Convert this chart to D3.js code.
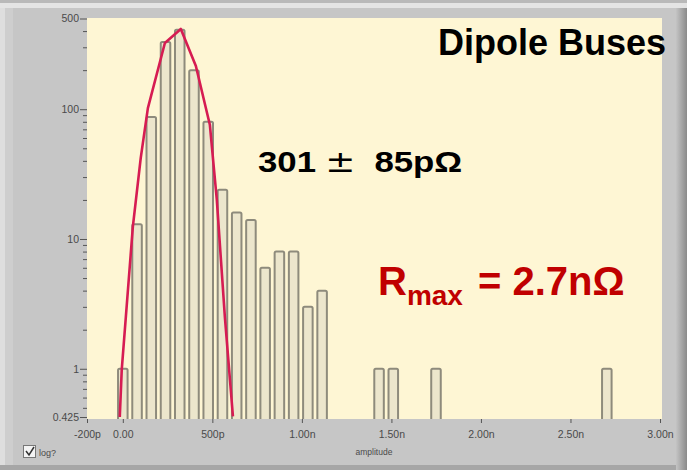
<!DOCTYPE html>
<html>
<head>
<meta charset="utf-8">
<script src="https://cdn.jsdelivr.net/npm/d3@7"></script>
<style>
  body { margin: 0; background: #c6c6c6; }
  svg { display: block; }
  .tick text { fill: #4a4a4a; font-family: "Liberation Sans", Arial, sans-serif; }
  .tick line { stroke: #555; }
</style>
</head>
<body>
<svg width="687" height="470"></svg>
<script>
// histogram bins (bin centre, pOhm) and counts
var binCenters = [0, 79.5, 159, 238.5, 318, 397.5, 477, 556.5, 636, 715.5, 795, 874.5, 954, 1033.5, 1113, 1431, 1510.5, 1749, 2703];
var counts     = [1, 13, 87, 330, 410, 200, 80, 24, 16, 14, 6, 8, 8, 3, 4, 1, 1, 1, 1];

// gaussian fit curve
var fitX = [-17, -6, 56, 100, 140, 235, 324, 408, 486, 525, 570, 615];
var fitY = [0.425, 0.98, 12.4, 42, 102, 324, 415, 215, 76, 20, 2.5, 0.43];

var xTicks = [-200, 0, 500, 1000, 1500, 2000, 2500, 3000];
var xTickLabels = ["-200p", "0.00", "500p", "1.00n", "1.50n", "2.00n", "2.50n", "3.00n"];
var yTicks = [0.425, 1, 10, 100, 500];
var yTickLabels = ["0.425", "1", "10", "100", "500"];
var yMinor = [0.5, 0.6, 0.7, 0.8, 0.9, 2, 3, 4, 5, 6, 7, 8, 9, 20, 30, 40, 50, 60, 70, 80, 90, 200, 300, 400];

var svg = d3.select("svg");
var pL = 87, pR = 662, pT = 18, pB = 419;
var ff = "Liberation Sans, Arial, sans-serif";

// window frame
svg.append("rect").attr("x", 0).attr("y", 0).attr("width", 687).attr("height", 3).attr("fill", "#b9b9b9");
svg.append("rect").attr("x", 0).attr("y", 3).attr("width", 687).attr("height", 5).attr("fill", "#e4e4e4");
svg.append("rect").attr("x", 0).attr("y", 8).attr("width", 5).attr("height", 462).attr("fill", "#dedede");
svg.append("rect").attr("x", 5).attr("y", 8).attr("width", 8).attr("height", 457).attr("fill", "#cecece");
var grad = svg.append("defs").append("linearGradient").attr("id", "rg");
grad.append("stop").attr("offset", "0%").attr("stop-color", "#c4c4c4");
grad.append("stop").attr("offset", "100%").attr("stop-color", "#8a8a8a");
svg.append("rect").attr("x", 676).attr("y", 8).attr("width", 11).attr("height", 462).attr("fill", "url(#rg)");
svg.append("rect").attr("x", 0).attr("y", 465).attr("width", 676).attr("height", 5).attr("fill", "#a6a6a6");

// plot area
svg.append("rect").attr("x", pL).attr("y", pT).attr("width", pR - pL).attr("height", pB - pT)
    .attr("fill", "#fef6d4");
svg.append("clipPath").attr("id", "clip").append("rect")
    .attr("x", pL).attr("y", pT).attr("width", pR - pL).attr("height", pB - pT);

var x = d3.scaleLinear().domain([-200, 3000]).range([87, 660]);
var y = d3.scaleLog().domain([0.425, 500]).range([417, 18.5]);

var barW = (x(79.5) - x(0)) * 0.67;
var data = binCenters.map((c, i) => ({ c: c, n: counts[i] }));

svg.append("g").attr("clip-path", "url(#clip)")
    .selectAll("rect").data(data).enter().append("rect")
    .attr("x", d => x(d.c) - barW / 2)
    .attr("y", d => y(d.n))
    .attr("width", barW)
    .attr("height", d => pB + 2 - y(d.n))
    .attr("rx", 1.5)
    .attr("fill", "#ece6cc")
    .attr("stroke", "#8e8b7c")
    .attr("stroke-width", 2);

var fit = fitX.map((v, i) => ({ x: v, y: fitY[i] }));
var lineMaker = d3.line().x(d => x(d.x)).y(d => y(d.y));
svg.append("path").attr("clip-path", "url(#clip)")
    .attr("fill", "none").attr("stroke", "#d61c52").attr("stroke-width", 2.6)
    .attr("stroke-linejoin", "round")
    .attr("d", lineMaker(fit));

// axes
var yAxis = svg.append("g").attr("transform", "translate(" + pL + ",0)")
    .call(d3.axisLeft(y).tickValues(yTicks).tickSize(7).tickPadding(1)
        .tickFormat((d, i) => yTickLabels[i]));
yAxis.select(".domain").remove();
yAxis.selectAll("text").attr("font-size", 10.5);
var yMin = svg.append("g").attr("transform", "translate(" + pL + ",0)")
    .call(d3.axisLeft(y).tickValues(yMinor).tickSize(4).tickFormat(""));
yMin.select(".domain").remove();

var xAxis = svg.append("g").attr("transform", "translate(0," + pB + ")")
    .call(d3.axisBottom(x).tickValues(xTicks).tickSize(4).tickPadding(8)
        .tickFormat((d, i) => xTickLabels[i]));
xAxis.select(".domain").remove();
xAxis.selectAll("text").attr("font-size", 10.5);

svg.append("text").attr("x", 374).attr("y", 455).attr("text-anchor", "middle")
    .attr("font-family", ff).attr("font-size", 8.5)
    .attr("fill", "#4a4a4a").text("amplitude");

// log? checkbox
svg.append("rect").attr("x", 23.5).attr("y", 445.5).attr("width", 12).attr("height", 12)
    .attr("fill", "#f4f4f4").attr("stroke", "#777");
svg.append("path").attr("d", "M26,451 L29,455 L34,447").attr("fill", "none").attr("stroke", "#333").attr("stroke-width", 1.5);
svg.append("text").attr("x", 39).attr("y", 456)
    .attr("font-family", ff).attr("font-size", 9)
    .attr("fill", "#4a4a4a").text("log?");

// annotations
svg.append("text").attr("x", 438).attr("y", 55).attr("font-family", ff)
    .attr("font-weight", "bold").attr("font-size", 36).attr("fill", "#000").text("Dipole Buses");

var t1 = svg.append("text").attr("transform", "translate(258,172) scale(1.2,1)")
    .attr("font-family", ff).attr("font-weight", "bold").attr("font-size", 29).attr("fill", "#000");
t1.append("tspan").attr("x", 0).text("301");
t1.append("tspan").attr("x", 56).attr("font-weight", "normal").attr("font-family", "DejaVu Sans").attr("font-size", 30).text("±");
t1.append("tspan").attr("x", 97).text("85pΩ");

var t2 = svg.append("text").attr("x", 378).attr("y", 295).attr("font-family", ff)
    .attr("font-weight", "bold").attr("font-size", 40).attr("fill", "#c00000");
t2.append("tspan").text("R");
t2.append("tspan").attr("font-size", 28).attr("dy", 10).text("max");
t2.append("tspan").attr("x", 478).attr("dy", -10).text("= 2.7nΩ");
</script>
</body>
</html>
